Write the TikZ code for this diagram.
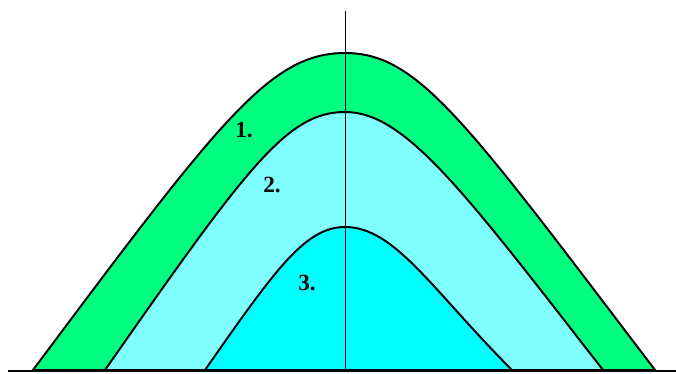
\documentclass[tikz,border=0pt]{standalone}
\usepackage{fontspec}
\setmainfont{Liberation Serif}
\usetikzlibrary{positioning}
\definecolor{zoneA}{HTML}{00FF80}
\definecolor{zoneB}{HTML}{80FFFF}
\definecolor{zoneC}{HTML}{00FFFF}
\tikzset{
  zone/.style={draw=black, line width=1.4pt, line join=round},
  axisline/.style={draw=black, line width=0.6pt},
  groundline/.style={draw=black, line width=1.8pt},
  lbl/.style={font=\fontsize{16.5}{19}\selectfont\bfseries, inner sep=0pt, text=black},
}
\begin{document}
\begin{tikzpicture}[x=0.25mm, y=-0.25mm]
  \useasboundingbox (0,0) rectangle (676,373);
  \coordinate (peakA) at (345,53);
  \coordinate (peakB) at (345,112);
  \coordinate (peakC) at (345,227);
  % layers, outer to inner
  \path[zone, fill=zoneA] (33,370) .. controls (220,120) and (270,53) .. (peakA)
    .. controls (418,53) and (465,120) .. (655,370) -- cycle;
  \path[zone, fill=zoneB] (105,370) .. controls (247,167) and (287,112) .. (peakB)
    .. controls (405,112) and (463,190) .. (603,370) -- cycle;
  \path[zone, fill=zoneC] (205,370) .. controls (275,270) and (305,227) .. (peakC)
    .. controls (395,227) and (432,290) .. (512,370) -- cycle;
  % axis and ground
  \coordinate (axtop) at (345,11);
  \coordinate (axfoot) at (345,371);
  \draw[axisline] (axtop) -- (axfoot);
  \coordinate (gleft) at (8,371);
  \coordinate (gright) at (676,371);
  \draw[groundline] (gleft) -- (gright);
  % labels
  \node[lbl] (lab1) at (244,130) {1.};
  \node[lbl] (lab2) at (272,185) {2.};
  \node[lbl] (lab3) at (307,283) {3.};
\end{tikzpicture}
\end{document}
